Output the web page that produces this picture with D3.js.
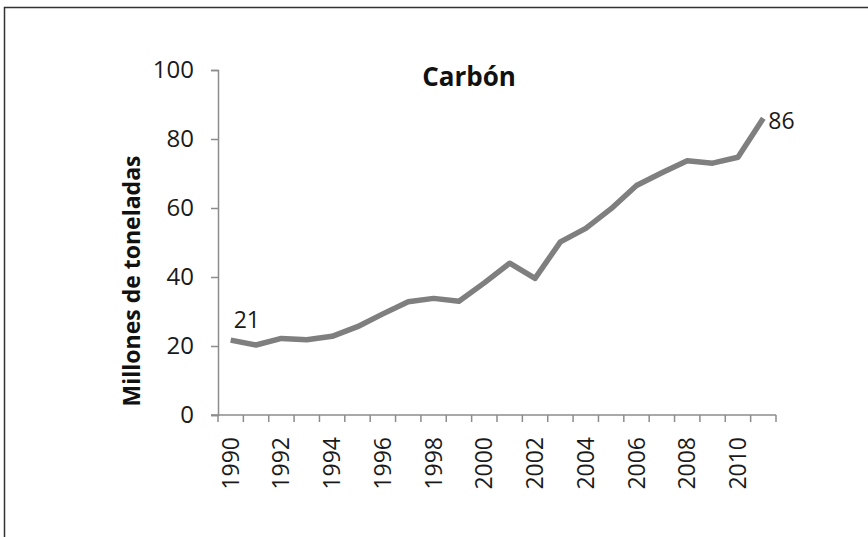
<!DOCTYPE html>
<html><head><meta charset="utf-8">
<script src="https://cdn.jsdelivr.net/npm/d3@7"></script>
<style>body{margin:0;background:#fff;}svg{display:block;font-family:"Open Sans",sans-serif;}</style>
</head><body>
<svg id="c" width="868" height="537"></svg>
<script>
const years = d3.range(1990, 2012);
const values = [21.7,20.3,22.2,21.8,22.8,25.6,29.3,32.8,33.8,33.0,38.3,44.0,39.6,50.2,54.1,59.8,66.5,70.2,73.7,73.0,74.7,86.0];
const yTicks = [0,20,40,60,80,100];
const xTickLabels = years.filter(y => y % 2 === 0);
const title = "Carbón";
const yTitle = "Millones de toneladas";
const endLabels = [{i:0, text:"21"}, {i:21, text:"86"}];

(function(){
const svg = d3.select("#c");
svg.append("rect").attr("x",4.5).attr("y",7.5).attr("width",900).attr("height",600)
  .attr("fill","none").attr("stroke","#333").attr("stroke-width",1.5);

const mLeft = 218, mRight = 776, mTop = 70, mBottom = 415;
const x = d3.scaleBand().domain(years).range([mLeft, mRight]);
const y = d3.scaleLinear().domain([0,100]).range([mBottom, mTop]);
const axisColor = "#8c8c8c";
const font = "'Open Sans',sans-serif";

// y axis
const ya = svg.append("g").attr("transform",`translate(${mLeft},0)`)
  .call(d3.axisLeft(y).tickValues(yTicks).tickSize(7).tickPadding(17));
ya.select(".domain").attr("stroke",axisColor).attr("stroke-width",1.5);
ya.selectAll(".tick line").attr("stroke",axisColor).attr("stroke-width",1.5);
ya.selectAll(".tick text").attr("font-size",24).attr("fill","#1a1a1a").attr("font-family",font);

// x axis: ticks at band boundaries
const xa = svg.append("g").attr("transform",`translate(0,${mBottom})`);
xa.append("line").attr("x1",mLeft-7).attr("x2",mRight).attr("y1",0).attr("y2",0)
  .attr("stroke",axisColor).attr("stroke-width",1.5);
const bounds = years.map(d => x(d)).concat([mRight]);
xa.selectAll("line.t").data(bounds).join("line").attr("class","t")
  .attr("x1",d=>d).attr("x2",d=>d).attr("y1",0).attr("y2",7)
  .attr("stroke",axisColor).attr("stroke-width",1.5);
xa.selectAll("text").data(xTickLabels).join("text")
  .attr("transform",d=>`translate(${x(d)+x.bandwidth()/2+8},22) rotate(-90)`)
  .attr("text-anchor","end").attr("font-size",23).attr("fill","#1a1a1a")
  .text(d=>d);

// line
const line = d3.line().x((d,i)=>x(years[i])+x.bandwidth()/2).y(d=>y(d));
svg.append("path").datum(values).attr("d",line).attr("fill","none")
  .attr("stroke","#7f7f7f").attr("stroke-width",5.5).attr("stroke-linejoin","round");

// labels
svg.append("text").attr("x",x(years[0])+x.bandwidth()/2+3).attr("y",y(values[0])-12)
  .attr("font-size",23).attr("fill","#1a1a1a").text(endLabels[0].text);
svg.append("text").attr("x",x(years[21])+x.bandwidth()/2+5).attr("y",y(values[21])+11)
  .attr("font-size",23).attr("fill","#1a1a1a").text(endLabels[1].text);

// titles
svg.append("text").attr("x",469).attr("y",86).attr("text-anchor","middle")
  .attr("font-size",26).attr("font-weight","bold").attr("fill","#111").text(title);
svg.append("text").attr("transform","translate(140,281) rotate(-90)").attr("text-anchor","middle")
  .attr("font-size",23).attr("font-weight","bold").attr("fill","#111").text(yTitle);
})();
</script>
</body></html>
